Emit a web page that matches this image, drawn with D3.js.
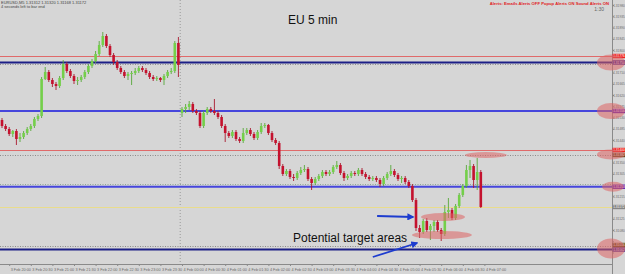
<!DOCTYPE html>
<html lang="en">
<head>
    <title>EU 5 min</title>
    <script src="https://d3js.org/d3.v7.min.js"></script>
    <style>
        body { margin: 0; background: #d6d6d6; }
        svg { display: block; font-family: "Liberation Sans", Arial, sans-serif; }
    </style>
</head>
<body>
<svg id="chart"></svg>
<script>
    // EURUSD M5 candles
    var opens = [1.31520,1.31496,1.31484,1.31464,1.31476,1.31444,1.31452,1.31468,1.31484,1.31496,
        1.31524,1.31536,1.31684,1.31712,1.31680,1.31664,1.31656,1.31688,1.31744,1.31716,
        1.31696,1.31676,1.31680,1.31692,1.31712,1.31736,1.31756,1.31784,1.31820,1.31856,
        1.31816,1.31780,1.31752,1.31728,1.31712,1.31696,1.31704,1.31708,1.31716,1.31728,
        1.31720,1.31708,1.31692,1.31684,1.31688,1.31680,1.31696,1.31712,1.31716,1.31828,
        1.31548,1.31564,1.31572,1.31584,1.31556,1.31548,1.31496,1.31548,1.31564,1.31556,
        1.31548,1.31532,1.31496,1.31468,1.31456,1.31472,1.31444,1.31436,1.31468,1.31480,
        1.31464,1.31448,1.31472,1.31496,1.31500,1.31468,1.31440,1.31428,1.31336,1.31304,
        1.31316,1.31292,1.31288,1.31308,1.31320,1.31324,1.31284,1.31268,1.31284,1.31296,
        1.31312,1.31304,1.31312,1.31332,1.31340,1.31308,1.31288,1.31296,1.31308,1.31304,
        1.31320,1.31304,1.31292,1.31284,1.31288,1.31280,1.31264,1.31288,1.31304,1.31316,
        1.31300,1.31284,1.31288,1.31272,1.31256,1.31200,1.31088,1.31072,1.31116,1.31080,
        1.31096,1.31112,1.31080,1.31064,1.31152,1.31160,1.31128,1.31176,1.31220,1.31256,
        1.31320,1.31336,1.31280,1.31312];
    var highs = [1.31528,1.31504,1.31492,1.31480,1.31484,1.31468,1.31476,1.31492,1.31504,1.31532,
        1.31544,1.31692,1.31732,1.31720,1.31688,1.31672,1.31696,1.31760,1.31752,1.31724,
        1.31704,1.31692,1.31700,1.31720,1.31744,1.31764,1.31796,1.31836,1.31872,1.31864,
        1.31824,1.31788,1.31760,1.31736,1.31720,1.31712,1.31716,1.31728,1.31736,1.31736,
        1.31728,1.31716,1.31700,1.31696,1.31692,1.31704,1.31720,1.31728,1.31836,1.31852,
        1.31572,1.31584,1.31596,1.31592,1.31564,1.31556,1.31556,1.31572,1.31572,1.31604,
        1.31556,1.31540,1.31504,1.31476,1.31480,1.31480,1.31452,1.31488,1.31488,1.31488,
        1.31472,1.31480,1.31508,1.31508,1.31504,1.31476,1.31448,1.31436,1.31344,1.31324,
        1.31324,1.31304,1.31316,1.31332,1.31340,1.31332,1.31292,1.31292,1.31304,1.31320,
        1.31320,1.31320,1.31340,1.31356,1.31348,1.31316,1.31304,1.31316,1.31316,1.31328,
        1.31328,1.31312,1.31300,1.31296,1.31296,1.31288,1.31296,1.31312,1.31340,1.31324,
        1.31308,1.31296,1.31296,1.31280,1.31264,1.31208,1.31100,1.31124,1.31128,1.31104,
        1.31120,1.31120,1.31088,1.31180,1.31208,1.31168,1.31184,1.31228,1.31264,1.31340,
        1.31360,1.31344,1.31368,1.31320];
    var lows = [1.31488,1.31476,1.31456,1.31452,1.31420,1.31432,1.31444,1.31460,1.31476,1.31488,
        1.31516,1.31528,1.31680,1.31672,1.31652,1.31640,1.31648,1.31680,1.31708,1.31688,
        1.31664,1.31660,1.31672,1.31684,1.31704,1.31728,1.31748,1.31776,1.31812,1.31808,
        1.31772,1.31740,1.31720,1.31704,1.31688,1.31680,1.31660,1.31700,1.31708,1.31712,
        1.31700,1.31684,1.31676,1.31676,1.31672,1.31660,1.31688,1.31704,1.31708,1.31692,
        1.31532,1.31548,1.31560,1.31548,1.31540,1.31488,1.31488,1.31540,1.31548,1.31540,
        1.31524,1.31488,1.31432,1.31448,1.31448,1.31436,1.31428,1.31428,1.31460,1.31456,
        1.31440,1.31440,1.31464,1.31488,1.31460,1.31432,1.31420,1.31324,1.31296,1.31296,
        1.31284,1.31276,1.31280,1.31300,1.31312,1.31276,1.31240,1.31260,1.31276,1.31288,
        1.31296,1.31296,1.31304,1.31324,1.31300,1.31276,1.31280,1.31288,1.31296,1.31296,
        1.31296,1.31284,1.31276,1.31276,1.31272,1.31252,1.31256,1.31280,1.31296,1.31292,
        1.31276,1.31268,1.31264,1.31248,1.31192,1.31076,1.31048,1.31064,1.31072,1.31040,
        1.31072,1.31072,1.31036,1.31056,1.31128,1.31120,1.31120,1.31168,1.31212,1.31248,
        1.31288,1.31248,1.31240,1.31168];
    var closes = [1.31496,1.31484,1.31464,1.31476,1.31444,1.31452,1.31468,1.31484,1.31496,1.31524,
        1.31536,1.31684,1.31712,1.31680,1.31664,1.31656,1.31688,1.31744,1.31716,1.31696,
        1.31676,1.31680,1.31692,1.31712,1.31736,1.31756,1.31784,1.31820,1.31856,1.31816,
        1.31780,1.31752,1.31728,1.31712,1.31696,1.31704,1.31708,1.31716,1.31728,1.31720,
        1.31708,1.31692,1.31684,1.31688,1.31680,1.31696,1.31712,1.31716,1.31828,1.31740,
        1.31564,1.31572,1.31584,1.31556,1.31548,1.31496,1.31548,1.31564,1.31556,1.31548,
        1.31532,1.31496,1.31468,1.31456,1.31472,1.31444,1.31436,1.31468,1.31480,1.31464,
        1.31448,1.31472,1.31496,1.31500,1.31468,1.31440,1.31428,1.31336,1.31304,1.31316,
        1.31292,1.31288,1.31308,1.31320,1.31324,1.31284,1.31268,1.31284,1.31296,1.31312,
        1.31304,1.31312,1.31332,1.31340,1.31308,1.31288,1.31296,1.31308,1.31304,1.31320,
        1.31304,1.31292,1.31284,1.31288,1.31280,1.31264,1.31288,1.31304,1.31316,1.31300,
        1.31284,1.31288,1.31272,1.31256,1.31200,1.31088,1.31072,1.31116,1.31080,1.31096,
        1.31112,1.31080,1.31064,1.31152,1.31160,1.31128,1.31176,1.31220,1.31256,1.31320,
        1.31336,1.31280,1.31312,1.31172];

    var timeLabels = ["3 Feb 20:00","3 Feb 20:30","3 Feb 21:00","3 Feb 21:30","3 Feb 22:00","3 Feb 22:30",
        "3 Feb 23:00","3 Feb 23:30","4 Feb 00:00","4 Feb 00:30","4 Feb 01:00","4 Feb 01:30",
        "4 Feb 02:00","4 Feb 02:30","4 Feb 03:00","4 Feb 03:30","4 Feb 04:00","4 Feb 04:30",
        "4 Feb 05:00","4 Feb 05:30","4 Feb 06:00","4 Feb 06:30","4 Feb 07:00"];
    var timeTickBars = [2,8,14,20,26,32,38,44,50,56,62,68,74,80,86,92,98,104,110,116,122,128,134];
    var priceTicks = [1.31980,1.31935,1.31890,1.31845,1.31800,1.31755,1.31710,1.31665,1.31620,1.31575,
        1.31530,1.31485,1.31440,1.31395,1.31350,1.31305,1.31260,1.31215,1.31170,1.31125,
        1.31080,1.31035,1.30990];

    // horizontal levels
    var redLevels = [1.31776, 1.31400];
    var blueLevels = [1.31750, 1.31556, 1.31253, 1.31002];
    var dottedLevels = [1.31744, 1.31382, 1.31263, 1.31016];
    var bidPrice = closes[closes.length - 1];
    var separatorBar = 49.5;

    // annotations (bar index, price)
    var targetZones = [[134.4, 1.31380, 21, 3], [122.5, 1.31132, 22, 4], [122.2, 1.31060, 30, 4]];
    var arrows = [[104.2, 1.31136, 114.2, 1.31132], [103, 1.30972, 115.3, 1.31028]];

    var width = 625, height = 274, plotW = 612, plotH = 264;
    var green = "#74cf4a", greenWick = "#58a83a", red = "#c4122e", redWick = "#a8182e";

    var x = d3.scaleLinear().domain([0, 133]).range([2, 480.8]);
    var y = d3.scaleLinear().domain([1.32, 1.32 - plotH * 0.00004]).range([0, plotH]);

    var svg = d3.select("#chart").attr("width", width).attr("height", height);
    svg.append("defs").append("marker")
        .attr("id", "head").attr("viewBox", "0 0 10 10")
        .attr("refX", 8).attr("refY", 5)
        .attr("markerWidth", 4).attr("markerHeight", 4)
        .attr("orient", "auto")
        .append("path").attr("d", "M0,0 L10,5 L0,10 z").attr("fill", "#1d3ccf");

    svg.append("rect").attr("width", width).attr("height", height).attr("fill", "#d6d6d6");

    // day separator
    svg.append("line")
        .attr("x1", x(separatorBar)).attr("x2", x(separatorBar))
        .attr("y1", 0).attr("y2", plotH)
        .attr("stroke", "#9a9a9a").attr("stroke-dasharray", "1,2");

    var lines = svg.append("g");
    lines.selectAll(".dot").data(dottedLevels).join("line")
        .attr("x1", 0).attr("x2", plotW)
        .attr("y1", function (d) { return Math.round(y(d)) + 0.5; })
        .attr("y2", function (d) { return Math.round(y(d)) + 0.5; })
        .attr("stroke", function (d, i) { return i == 2 ? "#8fa896" : "#8c8c8c"; })
        .attr("stroke-dasharray", "1,1.5");
    lines.selectAll(".red").data(redLevels).join("line")
        .attr("x1", 0).attr("x2", plotW)
        .attr("y1", function (d) { return Math.round(y(d)) + 0.5; })
        .attr("y2", function (d) { return Math.round(y(d)) + 0.5; })
        .attr("stroke", "#e06a6a");
    lines.selectAll(".blue").data(blueLevels).join("line")
        .attr("x1", 0).attr("x2", plotW)
        .attr("y1", function (d) { return y(d); })
        .attr("y2", function (d) { return y(d); })
        .attr("stroke", function (d, i) { return (i == 0 || i == 3) ? "#1c1f86" : "#4646dc"; })
        .attr("stroke-width", 2);
    lines.append("line")
        .attr("x1", 0).attr("x2", plotW)
        .attr("y1", Math.round(y(bidPrice)) + 0.5).attr("y2", Math.round(y(bidPrice)) + 0.5)
        .attr("stroke", "#e9dc8c");

    // candles
    var candles = svg.append("g").selectAll("g").data(closes).join("g");
    candles.append("line")
        .attr("x1", function (d, i) { return x(i); })
        .attr("x2", function (d, i) { return x(i); })
        .attr("y1", function (d, i) { return y(highs[i]); })
        .attr("y2", function (d, i) { return y(lows[i]); })
        .attr("stroke", function (d, i) { return d < opens[i] ? redWick : greenWick; })
        .attr("stroke-width", 0.9);
    candles.append("rect")
        .attr("x", function (d, i) { return x(i) - 1.3; })
        .attr("width", 2.6)
        .attr("y", function (d, i) { return y(Math.max(d, opens[i])); })
        .attr("height", function (d, i) { return Math.max(1, Math.abs(y(d) - y(opens[i]))); })
        .attr("fill", function (d, i) { return d < opens[i] ? red : green; });

    // target ellipses near price
    svg.append("g").selectAll("ellipse").data(targetZones).join("ellipse")
        .attr("cx", function (d) { return x(d[0]); })
        .attr("cy", function (d) { return y(d[1]); })
        .attr("rx", function (d) { return d[2]; })
        .attr("ry", function (d) { return d[3]; })
        .attr("fill", "rgba(222,100,100,0.55)");

    // price labels for levels (built first so covered axis labels can be skipped)
    var tags = [];
    redLevels.forEach(function (p) { tags.push([p, "#f0201e", 0]); });
    blueLevels.forEach(function (p, i) { tags.push([p, (i == 0 || i == 3) ? "#3a1f8e" : "#5a22b4", 0]); });
    tags.push([dottedLevels[1], "#5e4a1e", 0.5]);
    tags.push([dottedLevels[3], "#5e4a1e", -1]);
    tags.push([bidPrice, "#858585", 0]);

    // right price axis
    var yaxis = d3.axisRight(y).tickValues(priceTicks).tickSize(2).tickFormat(d3.format(".5f"));
    var ya = svg.append("g").attr("transform", "translate(" + plotW + ",0)").call(yaxis);
    ya.select(".domain").attr("stroke", "#8a8a8a").attr("d", "M0.5,0V" + height);
    ya.selectAll("line").attr("stroke", "#8a8a8a");
    ya.selectAll("text").attr("font-size", 3.2).attr("fill", "#6a6a6a").attr("x", 1.2)
        .attr("font-family", "Liberation Sans, Arial, sans-serif")
        .attr("display", function (d) {
            var hidden = tags.some(function (t) { return Math.abs(y(t[0]) + t[2] - y(d)) < 4; });
            return hidden ? "none" : null;
        });

    // bottom time axis
    var xaxis = d3.axisBottom(x).tickValues(timeTickBars).tickSize(2)
        .tickFormat(function (d, i) { return timeLabels[i]; });
    var xa = svg.append("g").attr("transform", "translate(0," + plotH + ")").call(xaxis);
    xa.select(".domain").attr("stroke", "#8a8a8a").attr("d", "M0,0.5H" + plotW);
    xa.selectAll("line").attr("stroke", "#8a8a8a");
    xa.selectAll("text").attr("font-size", 3.8).attr("fill", "#6a6a6a")
        .attr("text-anchor", "start").attr("dx", 1).attr("y", 4)
        .attr("font-family", "Liberation Sans, Arial, sans-serif");

    var tg = svg.append("g").selectAll("g").data(tags).join("g")
        .attr("transform", function (d) { return "translate(" + plotW + "," + (y(d[0]) + d[2]) + ")"; });
    tg.append("rect").attr("x", 0.5).attr("y", -2.2).attr("width", 12.5).attr("height", 4.4)
        .attr("fill", function (d) { return d[1]; });
    tg.append("text").attr("x", 1.2).attr("y", 1.2).attr("font-size", 3.2).attr("fill", "#fff")
        .text(function (d) { return d3.format(".5f")(d[0]); });

    // target ellipses on the axis
    var edge = [blueLevels[0], blueLevels[1], dottedLevels[1], blueLevels[2], blueLevels[3]];
    svg.append("g").selectAll("ellipse").data(edge).join("ellipse")
        .attr("cx", function (d, i) { return i == 3 ? 613 : 611; })
        .attr("cy", function (d, i) { return y(d) + (i == 4 ? -1 : 0); })
        .attr("rx", function (d, i) { return i == 3 ? 11 : 14; })
        .attr("ry", function (d, i) { return i == 2 ? 5 : (i == 3 ? 5 : (i == 4 ? 10 : 8)); })
        .attr("fill", "rgba(222,100,100,0.55)");

    // arrows
    svg.append("g").selectAll("line").data(arrows).join("line")
        .attr("x1", function (d) { return x(d[0]); })
        .attr("y1", function (d) { return y(d[1]); })
        .attr("x2", function (d) { return x(d[2]); })
        .attr("y2", function (d) { return y(d[3]); })
        .attr("stroke", "#1d3ccf").attr("stroke-width", 1.8)
        .attr("marker-end", "url(#head)");

    // texts
    svg.append("text").attr("x", 288).attr("y", 24).attr("font-size", 12).attr("fill", "#111").text("EU 5 min");
    svg.append("text").attr("x", 293).attr("y", 242).attr("font-size", 12).attr("fill", "#111").text("Potential target areas");
    svg.append("text").attr("x", 1).attr("y", 3.5).attr("font-size", 4).attr("fill", "#444")
        .text("EURUSD,M5  1.31312 1.31320 1.31168 1.31172");
    svg.append("text").attr("x", 1).attr("y", 8).attr("font-size", 4).attr("fill", "#444")
        .text("4 seconds left to bar end");
    svg.append("text").attr("x", 609).attr("y", 5).attr("font-size", 4.2).attr("fill", "#e02222")
        .attr("text-anchor", "end").attr("font-weight", "bold")
        .text("Alerts:   Emails Alerts OFF    Popup Alerts ON    Sound Alerts ON");
    svg.append("text").attr("x", 604).attr("y", 11).attr("font-size", 5).attr("fill", "#666")
        .attr("text-anchor", "end").text("1:30");
</script>
</body>
</html>
